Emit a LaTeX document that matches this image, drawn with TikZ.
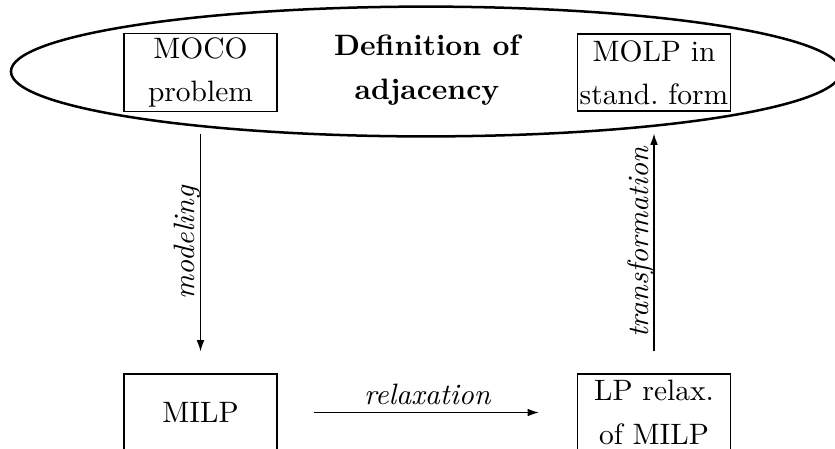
\documentclass[tikz,border=0pt]{standalone}
\usetikzlibrary{arrows.meta,shapes.geometric}
\begin{document}
\begin{tikzpicture}[x=0.339pt,y=-0.339pt,
  box/.style={draw, line width=0.4pt, minimum width=51.9pt, minimum height=26.1pt,
    text width=50.5pt, inner xsep=0.7pt, inner ysep=1.3pt, align=center,
    font=\fontsize{10}{14.7}\selectfont},
  arr/.style={-{Latex[length=3.8pt,width=2.6pt]}, line width=0.4pt},
  lbl/.style={font=\itshape}]
\useasboundingbox (0,0) rectangle (835,448);
\node[ellipse, draw, line width=0.85pt, minimum width=281.4pt, minimum height=44pt, inner sep=0pt] (ell) at (426,71.5) {};
\node[box] (moco) at (200.5,72.5) {MOCO\\problem};
\node[box] (molp) at (654,72.5) {MOLP in\\stand.\ form};
\node[font=\bfseries\fontsize{10}{14.7}\selectfont, align=center] (def) at (427,70) {Definition of\\adjacency};
\node[box] (milp) at (200.5,412.5) {MILP};
\node[box] (lp) at (654,412.5) {LP relax.\\of MILP};
\draw[arr, shorten >=7.46pt, shorten <=7.46pt] (moco.south) -- node[midway, xshift=-2pt, rotate=90, anchor=base, lbl] (lmod) {modeling} (milp.north);
\draw[arr, shorten >=7.46pt, shorten <=7.46pt] (lp.north) -- node[midway, xshift=-2pt, rotate=90, anchor=base, lbl] (ltra) {transformation} (molp.south);
\draw[arr, shorten <=12.2pt, shorten >=12.9pt] (milp.east) -- node[midway, yshift=2.85pt, anchor=base, lbl] (lrel) {relaxation} (lp.west);
\end{tikzpicture}
\end{document}
